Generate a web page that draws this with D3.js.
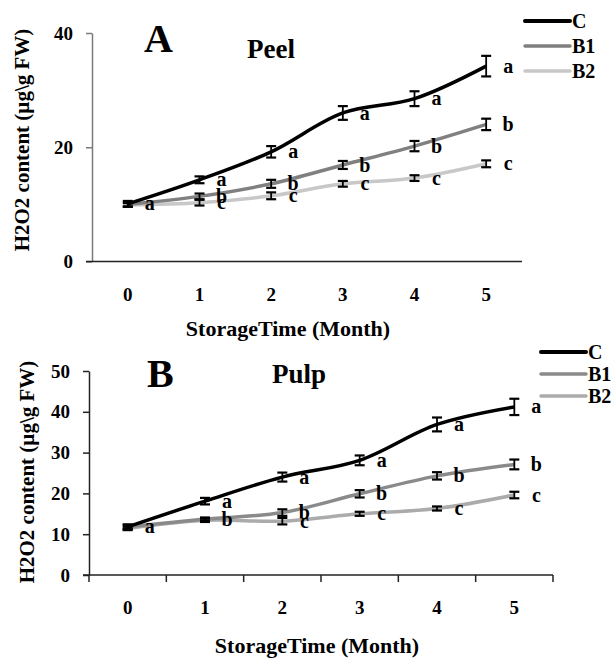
<!DOCTYPE html>
<html lang="en">
<head>
    <meta charset="UTF-8">
    <script src="https://cdn.jsdelivr.net/npm/d3@7"></script>
    <title>H2O2 content</title>
    <style>
        body {
            margin: 0;
            background: #fff;
        }
        svg text {
            font-family: "Liberation Serif", "Times New Roman", serif;
            font-weight: bold;
            fill: #000;
        }
    </style>
</head>
<body>
    <svg id="chart" width="616" height="659"></svg>

    <script>
        // storage time categories
        const months = ["0", "1", "2", "3", "4", "5"];
        const seriesNames = ["C", "B1", "B2"];

        // Panel A - Peel
        const peelC = [10.1, 14.3, 19.2, 26.0, 28.5, 34.2];
        const peelB1 = [10.0, 11.4, 13.6, 16.9, 20.2, 24.0];
        const peelB2 = [9.9, 10.3, 11.5, 13.6, 14.6, 17.1];
        const peelCErr = [0.5, 0.6, 1.0, 1.2, 1.3, 1.8];
        const peelB1Err = [0.4, 0.5, 0.7, 0.7, 0.9, 1.0];
        const peelB2Err = [0.3, 0.5, 0.6, 0.5, 0.5, 0.6];
        // "" = letter shared with the series above, printed once
        const peelCLetters = ["a", "a", "a", "a", "a", "a"];
        const peelB1Letters = ["", "b", "b", "b", "b", "b"];
        const peelB2Letters = ["", "c", "c", "c", "c", "c"];
        const peelTicks = [0, 20, 40];

        // Panel B - Pulp
        const pulpC = [11.8, 18.1, 24.0, 28.1, 36.9, 41.2];
        const pulpB1 = [11.8, 13.7, 15.3, 19.9, 24.3, 27.1];
        const pulpB2 = [11.4, 13.4, 13.2, 15.0, 16.3, 19.6];
        const pulpCErr = [0.6, 0.8, 1.1, 1.2, 1.7, 2.0];
        const pulpB1Err = [0.5, 0.4, 0.8, 0.9, 0.9, 1.2];
        const pulpB2Err = [0.4, 0.4, 0.8, 0.5, 0.5, 0.8];
        const pulpCLetters = ["a", "a", "a", "a", "a", "a"];
        const pulpB1Letters = ["", "b", "b", "b", "b", "b"];
        const pulpB2Letters = ["", "", "c", "c", "c", "c"];
        const pulpTicks = [0, 10, 20, 30, 40, 50];

        const svg = d3.select("#chart");

        const drawPanel = (cfg) => {
            const g = svg.append("g");

            const x = d3.scaleBand().domain(months).range(cfg.xRange);
            const y = d3.scaleLinear().domain([0, d3.max(cfg.ticks)]).range(cfg.yRange);
            const cx = m => x(m) + x.bandwidth() / 2;

            // y axis
            const yAxis = g.append("g")
                .attr("transform", `translate(${cfg.xRange[0]},0)`)
                .call(d3.axisLeft(y).tickValues(cfg.ticks).tickSize(6).tickPadding(13).tickSizeOuter(0));
            yAxis.select(".domain").attr("stroke", cfg.yAxisColor).attr("stroke-width", 1.5);
            yAxis.selectAll(".tick line").attr("stroke", cfg.yAxisColor).attr("stroke-width", 1.5);
            yAxis.selectAll(".tick text").attr("font-size", 19);

            // x axis
            const xAxis = g.append("g")
                .attr("transform", `translate(0,${cfg.yRange[0]})`)
                .call(d3.axisBottom(x).tickSize(0).tickPadding(26));
            xAxis.select(".domain").remove();
            xAxis.selectAll(".tick text").attr("font-size", 19);
            g.append("line")
                .attr("x1", cfg.xRange[0] - 6).attr("x2", cfg.xRange[1])
                .attr("y1", cfg.yRange[0]).attr("y2", cfg.yRange[0])
                .attr("stroke", "#222").attr("stroke-width", 1.5);
            if (cfg.xTicks) {
                const bounds = months.map(m => x(m)).concat([cfg.xRange[1]]);
                g.selectAll(".xtick").data(bounds).enter().append("line")
                    .attr("x1", d => d).attr("x2", d => d)
                    .attr("y1", cfg.yRange[0]).attr("y2", cfg.yRange[0] + 7)
                    .attr("stroke", "#222").attr("stroke-width", 1.5);
            }

            // axis titles
            g.append("text")
                .attr("x", cfg.xTitlePos[0]).attr("y", cfg.xTitlePos[1])
                .attr("text-anchor", "middle")
                .attr("font-size", 22)
                .text("StorageTime (Month)");
            g.append("text")
                .attr("transform", `translate(${cfg.yTitlePos[0]},${cfg.yTitlePos[1]}) rotate(-90)`)
                .attr("text-anchor", "middle")
                .attr("dominant-baseline", "central")
                .attr("font-size", 21)
                .text("H2O2 content (µg\\g FW)");

            // panel letter + name
            g.append("text")
                .attr("x", cfg.letterPos[0]).attr("y", cfg.letterPos[1])
                .attr("font-size", 40)
                .text(cfg.letter);
            g.append("text")
                .attr("x", cfg.namePos[0]).attr("y", cfg.namePos[1])
                .attr("font-size", 27)
                .text(cfg.name);

            const line = d3.line()
                .x((d, i) => cx(months[i]))
                .y(d => y(d))
                .curve(d3.curveCatmullRom.alpha(0.5));

            // draw lighter series first so black line is on top
            cfg.series.slice().reverse().forEach(s => {
                g.append("path")
                    .datum(s.values)
                    .attr("d", line)
                    .attr("fill", "none")
                    .attr("stroke", s.color)
                    .attr("stroke-width", 3.5)
                    .attr("stroke-linejoin", "round");
            });

            cfg.series.forEach(s => {
                const eb = g.append("g");
                s.values.forEach((v, i) => {
                    const px = cx(months[i]);
                    const top = y(v + s.err[i]);
                    const bot = y(v - s.err[i]);
                    eb.append("line").attr("x1", px).attr("x2", px).attr("y1", top).attr("y2", bot)
                        .attr("stroke", "#000").attr("stroke-width", 1.8);
                    [top, bot].forEach(yy => {
                        eb.append("line").attr("x1", px - 5).attr("x2", px + 5).attr("y1", yy).attr("y2", yy)
                            .attr("stroke", "#000").attr("stroke-width", 2.2);
                    });
                });

                const idx = s.letters.map((d, i) => i).filter(i => s.letters[i] !== "");
                g.selectAll(null).data(idx).enter().append("text")
                    .attr("x", i => cx(months[i]) + 22)
                    .attr("y", i => y(s.values[i]) + 2)
                    .attr("text-anchor", "middle")
                    .attr("dominant-baseline", "middle")
                    .attr("font-size", 20)
                    .text(i => s.letters[i]);
            });

            // legend
            cfg.series.forEach((s, i) => {
                const ly = cfg.legendPos[1] + i * cfg.legendGap;
                g.append("line")
                    .attr("x1", cfg.legendPos[0]).attr("x2", cfg.legendPos[0] + 45)
                    .attr("y1", ly).attr("y2", ly)
                    .attr("stroke", s.color)
                    .attr("stroke-width", i === 0 ? 4 : 3.5)
                    .attr("stroke-linecap", "round");
                g.append("text")
                    .attr("x", cfg.legendPos[0] + 47).attr("y", ly)
                    .attr("dominant-baseline", "central")
                    .attr("font-size", 20)
                    .text(seriesNames[i]);
            });
        };

        drawPanel({
            letter: "A", name: "Peel",
            xRange: [92, 522], yRange: [261.5, 33],
            ticks: peelTicks, xTicks: false, yAxisColor: "#7a7a7a",
            xTitlePos: [288, 336], yTitlePos: [22, 140],
            letterPos: [144, 52], namePos: [247, 58],
            legendPos: [525, 21], legendGap: 25,
            series: [
                { values: peelC, err: peelCErr, letters: peelCLetters, color: "#000000" },
                { values: peelB1, err: peelB1Err, letters: peelB1Letters, color: "#808080" },
                { values: peelB2, err: peelB2Err, letters: peelB2Letters, color: "#c8c8c8" }
            ]
        });

        drawPanel({
            letter: "B", name: "Pulp",
            xRange: [89, 553], yRange: [575, 371],
            ticks: pulpTicks, xTicks: true, yAxisColor: "#222",
            xTitlePos: [317, 653], yTitlePos: [27, 472],
            letterPos: [147, 387], namePos: [272, 383],
            legendPos: [541, 352], legendGap: 22,
            series: [
                { values: pulpC, err: pulpCErr, letters: pulpCLetters, color: "#000000" },
                { values: pulpB1, err: pulpB1Err, letters: pulpB1Letters, color: "#8a8a8a" },
                { values: pulpB2, err: pulpB2Err, letters: pulpB2Letters, color: "#ababab" }
            ]
        });
    </script>
</body>
</html>
